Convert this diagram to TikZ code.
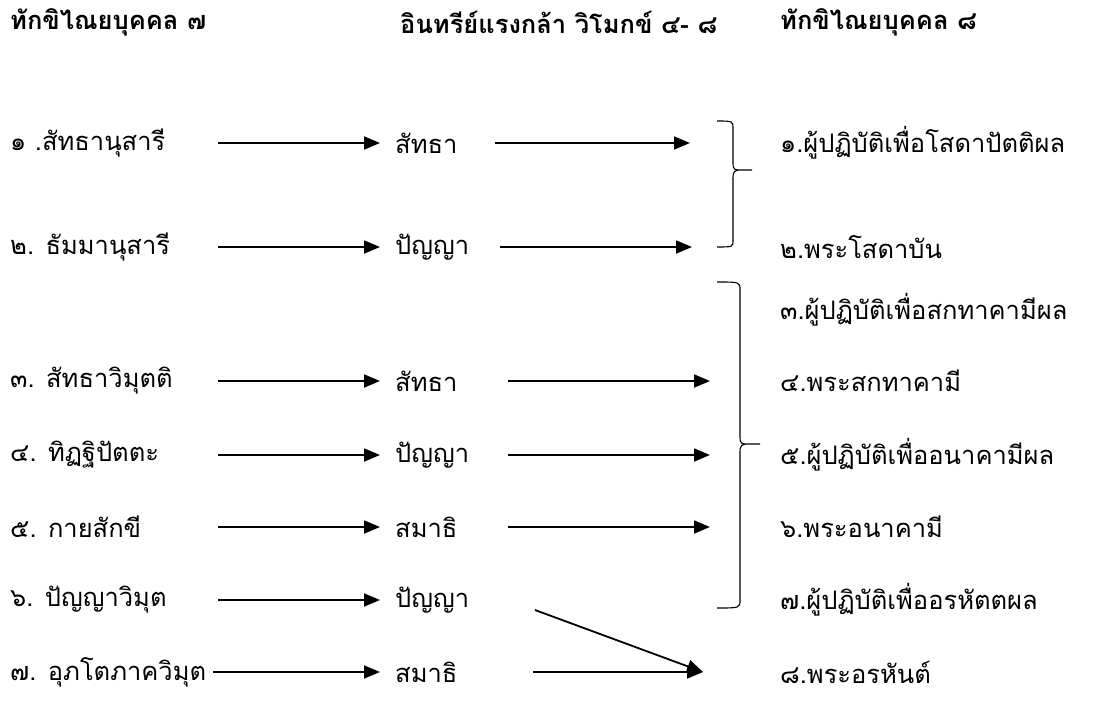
\documentclass[tikz,border=0pt]{standalone}
\usepackage{fontspec}
\setmainfont[Script=Thai]{Loma}
\usetikzlibrary{arrows.meta}

\begin{document}
\begin{tikzpicture}[x=1pt,y=-1pt,
  txt/.style={anchor=west,inner sep=0pt,font=\fontsize{25.5}{30}\selectfont},
  head/.style={anchor=west,inner sep=0pt,font=\fontsize{25.5}{30}\selectfont\bfseries},
  arr/.style={line width=1.8pt,-{Triangle[length=16pt,width=13pt]}},
  brace/.style={line width=1.1pt}]
  \useasboundingbox (0,0) rectangle (1101,706);
  % Headers
  \node[head] (h1) at (10,22) {ทักขิไณยบุคคล ๗};
  \node[head] (h2) at (400,22) {อินทรีย์แรงกล้า วิโมกข์ ๔- ๘};
  \node[head] (h3) at (780,22) {ทักขิไณยบุคคล ๘};
  % Left and middle columns
  \foreach \n/\y/\l/\m/\a in {1/143/{๑ .สัทธานุสารี}/สัทธา/218,
      2/247/{๒. ธัมมานุสารี}/ปัญญา/218,
      3/381/{๓. สัทธาวิมุตติ}/สัทธา/218,
      4/455/{๔. ทิฏฐิปัตตะ}/ปัญญา/218,
      5/527/{๕. กายสักขี}/สมาธิ/218,
      6/600/{๖. ปัญญาวิมุต}/ปัญญา/218,
      7/672/{๗. อุภโตภาควิมุต}/สมาธิ/213}
  {
    \node[txt] (l\n) at (10,\y) {\l};
    \node[txt] (m\n) at (395,\y) {\m};
    \coordinate (a\n) at (\a,\y);
    \coordinate (b\n) at (380,\y);
    \draw[arr] (a\n) -- (b\n);
  }
  % Arrows to the right column
  \foreach \n/\y/\xs/\xe in {1/143/495/690, 2/247/500/692, 3/381/508/710,
      4/455/508/710, 5/527/508/710, 7/672/533/703}
  {
    \coordinate (c\n) at (\xs,\y);
    \coordinate (d\n) at (\xe,\y);
    \draw[arr] (c\n) -- (d\n);
  }
  \coordinate (c6) at (535,610);
  \draw[arr] (c6) -- (d7);
  % Right column
  \foreach \n/\y/\t in {1/143/{๑.ผู้ปฏิบัติเพื่อโสดาปัตติผล},
      2/247/{๒.พระโสดาบัน},
      3/310/{๓.ผู้ปฏิบัติเพื่อสกทาคามีผล},
      4/381/{๔.พระสกทาคามี},
      5/455/{๕.ผู้ปฏิบัติเพื่ออนาคามีผล},
      6/527/{๖.พระอนาคามี},
      7/600/{๗.ผู้ปฏิบัติเพื่ออรหัตตผล},
      8/672/{๘.พระอรหันต์}}
    \node[txt] (r\n) at (780,\y) {\t};
  % Braces
  \draw[brace] (717,121) .. controls (733,121) .. (733,129) -- (733,163)
    .. controls (733,170) and (735,170) .. (741,170) -- (752,170)
    (741,170) .. controls (735,170) and (733,171) .. (733,178) -- (733,240)
    .. controls (733,247) .. (717,247);
  \draw[brace] (717,282) .. controls (740,282) .. (740,290) -- (740,437)
    .. controls (740,444) and (742,444) .. (748,444) -- (760,444)
    (748,444) .. controls (742,444) and (740,445) .. (740,452) -- (740,600)
    .. controls (740,608) .. (717,608);
\end{tikzpicture}
\end{document}
